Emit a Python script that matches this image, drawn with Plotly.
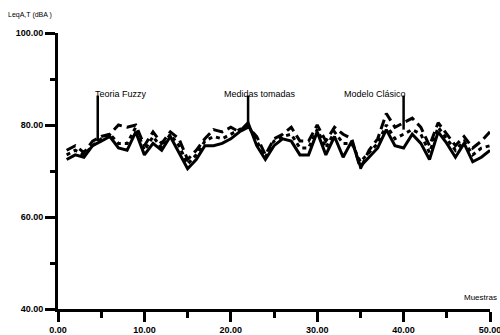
import plotly.graph_objects as go

muestras = list(range(1, 51))
medidas = [72.5, 73.5, 73.0, 75.5, 76.5, 77.5, 75.0, 74.5, 78.5, 73.5,
           76.0, 74.5, 77.5, 74.0, 70.5, 72.5, 75.5, 75.5, 76.0, 77.0,
           78.5, 80.5, 75.5, 72.5, 75.5, 77.0, 76.5, 73.5, 73.5, 78.5,
           73.5, 77.5, 73.0, 76.5, 71.0, 73.0, 75.0, 79.0, 75.5, 75.0,
           78.0, 76.0, 72.5, 78.5, 76.0, 73.0, 76.0, 72.0, 73.0, 74.5]
clasico = [74.5, 75.5, 74.0, 76.5, 77.5, 78.0, 80.0, 79.5, 80.0, 75.5,
           78.5, 76.0, 78.5, 77.0, 72.5, 74.5, 77.0, 79.0, 78.5, 79.5,
           78.5, 79.5, 77.5, 73.5, 77.0, 78.0, 79.5, 76.5, 76.5, 80.0,
           76.5, 79.5, 78.0, 77.0, 70.5, 74.5, 77.0, 82.5, 79.5, 80.5,
           81.5, 79.5, 75.5, 80.5, 78.0, 75.5, 77.5, 75.0, 76.5, 78.5]
fuzzy = [73.5, 74.5, 73.5, 75.5, 77.0, 78.0, 76.0, 76.0, 79.5, 74.5,
         77.5, 75.0, 78.0, 75.5, 71.5, 73.5, 76.5, 77.5, 77.0, 78.0,
         79.0, 80.0, 76.5, 73.0, 76.5, 77.5, 78.0, 75.0, 75.0, 79.0,
         75.0, 78.5, 76.0, 76.0, 72.0, 74.0, 76.0, 80.0, 77.0, 78.0,
         79.0, 78.0, 74.0, 79.5, 77.0, 74.5, 76.5, 73.5, 75.0, 75.5]

x_ticks = [0, 10, 20, 30, 40, 50]
y_ticks = [40, 60, 80, 100]
labels = ["Teoria Fuzzy", "Medidas tomadas", "Modelo Clásico"]

FONT = "Liberation Sans, Arial, sans-serif"

fig = go.Figure()
fig.add_trace(go.Scatter(x=muestras, y=clasico, mode="lines", name=labels[2],
                         line=dict(color="black", width=3, dash="10px,5px")))
fig.add_trace(go.Scatter(x=muestras, y=fuzzy, mode="lines", name=labels[0],
                         line=dict(color="black", width=3, dash="4px,4px")))
fig.add_trace(go.Scatter(x=muestras, y=medidas, mode="lines", name=labels[1],
                         line=dict(color="black", width=3)))

# label leader lines and texts
leaders = [(4.6, fuzzy[3] + 1.0, 7.3, labels[0]),
           (22, medidas[21], 23.4, labels[1]),
           (40, clasico[39] - 1.5, 36.7, labels[2])]
for lx, ly, tx, txt in leaders:
    fig.add_shape(type="line", x0=lx, x1=lx, y0=ly, y1=86.4,
                  line=dict(color="black", width=2.5))
    fig.add_annotation(x=tx, y=86.7, text=txt, showarrow=False,
                       font=dict(family=FONT, size=9, color="black"),
                       xanchor="center", yanchor="middle")

fig.add_annotation(xref="paper", yref="paper", x=-0.12, y=1.065,
                   text="LeqA,T (dBA )", showarrow=False, xanchor="left",
                   yanchor="middle", font=dict(family=FONT, size=7, color="black"))
fig.add_annotation(xref="paper", yref="paper", x=1.02, y=0.04,
                   text="Muestras", showarrow=False, xanchor="right",
                   yanchor="middle", font=dict(family=FONT, size=8, color="black"))

axis_common = dict(showline=True, linecolor="black", linewidth=3, showgrid=False,
                   zeroline=False, ticks="outside", ticklen=10, tickwidth=3,
                   tickcolor="black", tickformat=".2f", automargin=False,
                   ticklabeloverflow="allow",
                   tickfont=dict(family=FONT, size=9, color="black", weight="bold"))

fig.update_layout(
    template="none",
    width=500, height=335,
    margin=dict(l=58, r=10, t=33, b=26),
    paper_bgcolor="white", plot_bgcolor="white",
    showlegend=False,
    xaxis=dict(range=[0, 50], tickvals=x_ticks,
               minor=dict(dtick=5, ticks="outside", ticklen=6, tickwidth=3, tickcolor="black"),
               **axis_common),
    yaxis=dict(range=[40, 100], tickvals=y_ticks,
               minor=dict(dtick=10, ticks="outside", ticklen=5, tickwidth=3, tickcolor="black"),
               **axis_common),
)

fig.write_html("out.html", config={"displayModeBar": False},
               post_script="document.body.style.margin='0';")
